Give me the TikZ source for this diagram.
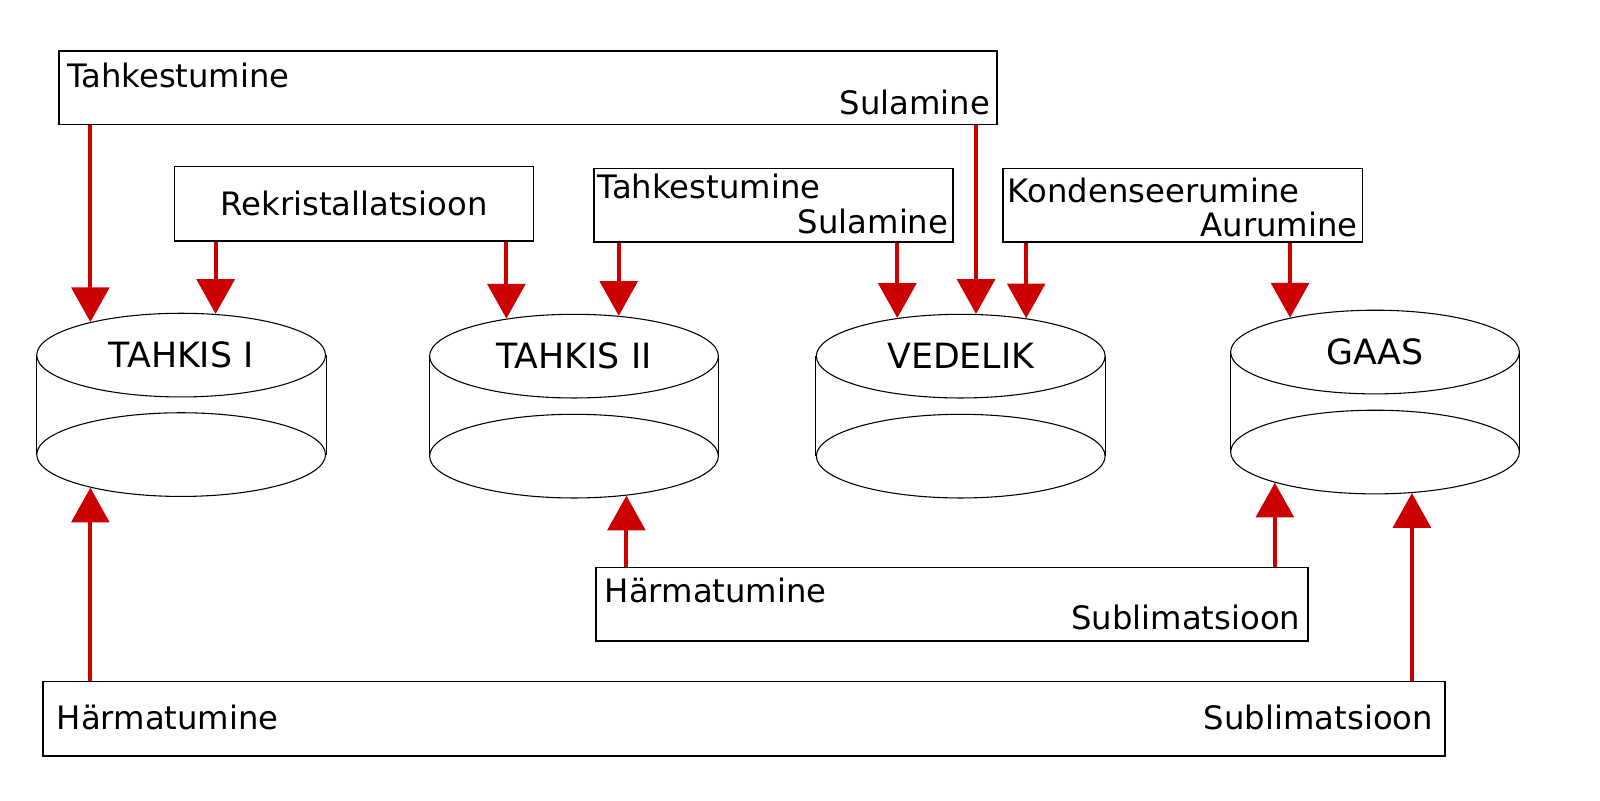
\documentclass[tikz,border=0pt]{standalone}
\usepackage{fontspec}
\setmainfont{DejaVu Sans}
\usetikzlibrary{arrows.meta, positioning, shapes.geometric}
\definecolor{flowred}{HTML}{CC0000}

\begin{document}
\begin{tikzpicture}[
    every node/.style={font=\fontsize{9.0}{10}\selectfont}, % box texts
    box/.style={draw=black, line width=0.4pt, minimum height=0.72cm, inner sep=0pt}, % process boxes
    lbl/.style={inner sep=0pt}, % texts inside the boxes
    tank/.style={ellipse, draw=black, line width=0.3pt, minimum width=2.83cm,
                 minimum height=0.82cm, inner sep=0pt, font=\fontsize{9.7}{11}\selectfont}, % cylinder ends
    side/.style={black, line width=0.3pt}, % cylinder walls
    flow/.style={flowred, line width=1.15pt, -{Triangle[width=10.5pt,length=9.7pt]}} % red arrows
]
    \useasboundingbox (0,0.16) rectangle (15.68,8.0);

    % 1. process boxes
    \node[box, minimum width=9.19cm] (solidtop) at (5.175,7.14) {};
    \node[box, minimum width=3.52cm, minimum height=0.73cm] (rekr) at (3.47,6.005) {};
    \node[box, minimum width=3.52cm] (solidliq) at (7.58,5.99) {};
    \node[box, minimum width=3.52cm] (liqgas) at (11.59,5.99) {};
    \node[box, minimum width=6.98cm] (gassolmid) at (9.33,2.08) {};
    \node[box, minimum width=13.74cm, minimum height=0.73cm] (gassolbot) at (7.29,0.955) {};

    % texts of the boxes
    \node[lbl, anchor=base west] (topL) at (0.65,7.14) {Tahkestumine};
    \node[lbl, anchor=base east] (topR) at (9.71,6.88) {Sulamine};
    \node[lbl] (rekrT) at (rekr.center) {Rekristallatsioon};
    \node[lbl, anchor=base west] (slL) at (5.85,6.05) {Tahkestumine};
    \node[lbl, anchor=base east] (slR) at (9.30,5.71) {Sulamine};
    \node[lbl, anchor=base west] (lgL) at (9.87,6.02) {Kondenseerumine};
    \node[lbl, anchor=base east] (lgR) at (13.31,5.68) {Aurumine};
    \node[lbl, anchor=base west] (midL) at (5.92,2.10) {Härmatumine};
    \node[lbl, anchor=base east] (midR) at (12.75,1.83) {Sublimatsioon};
    \node[lbl, anchor=base west] (botL) at (0.55,0.85) {Härmatumine};
    \node[lbl, anchor=base east] (botR) at (14.05,0.85) {Sublimatsioon};

    % 2. cylinders: top end with the name, bottom end, walls
    \node[tank] (tI) at (1.775,4.52) {TAHKIS I};
    \node[tank] (tIb) at (1.775,3.545) {};
    \node[tank] (tII) at (5.625,4.51) {TAHKIS II};
    \node[tank] (tIIb) at (5.625,3.53) {};
    \node[tank] (ved) at (9.415,4.51) {VEDELIK};
    \node[tank] (vedb) at (9.415,3.53) {};
    \node[tank] (gaas) at (13.475,4.55) {GAAS};
    \node[tank] (gaasb) at (13.475,3.57) {};
    \foreach \t in {tI,tII,ved,gaas} {
        \draw[side] (\t.west) -- (\t b.west);
        \draw[side] (\t.east) -- (\t b.east);
    }

    % 3. arrows down into the cylinders
    \draw[flow] (solidtop.south -| tI.160) -- (tI.160);
    \draw[flow] (rekr.south -| tI.50) -- (tI.50);
    \draw[flow] (rekr.south -| tII.151) -- (tII.151);
    \draw[flow] (solidliq.south -| tII.42) -- (tII.42);
    \draw[flow] (solidliq.south -| ved.149.5) -- (ved.149.5);
    \draw[flow] (solidtop.south -| ved.70.4) -- (ved.70.4);
    \draw[flow] (liqgas.south -| ved.30.5) -- (ved.30.5);
    \draw[flow] (liqgas.south -| gaas.158.4) -- (gaas.158.4);

    % 4. arrows up into the cylinders
    \draw[flow] (gassolbot.north -| tIb.200.2) -- (tIb.200.2);
    \draw[flow] (gassolmid.north -| tIIb.323.4) -- (tIIb.323.4);
    \draw[flow] (gassolmid.north -| gaasb.197) -- (gaasb.197);
    \draw[flow] (gassolbot.north -| gaasb.312.7) -- (gaasb.312.7);

\end{tikzpicture}
\end{document}
